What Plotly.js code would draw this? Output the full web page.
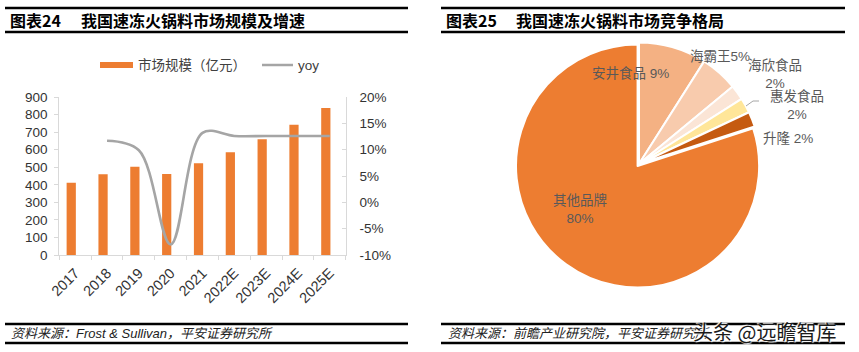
<!DOCTYPE html>
<html>
<head>
<meta charset="utf-8">
<script src="https://cdn.plot.ly/plotly-3.0.1.min.js"></script>
<style>html,body{margin:0;padding:0;background:#fff;}#chart{width:859px;height:352px;}</style>
</head>
<body>
<div id="chart"></div>
<script>
// ---------- data ----------
const years = ['2017','2018','2019','2020','2021','2022E','2023E','2024E','2025E'];
const marketSize = [412, 460, 503, 461, 522, 585, 660, 742, 838];          // 亿元
const yoy = [null, 0.117, 0.099, -0.080, 0.132, 0.126, 0.126, 0.126, 0.126];
const leftTicks = [0,100,200,300,400,500,600,700,800,900];
const rightTickVals = [-0.10,-0.05,0,0.05,0.10,0.15,0.20];
const rightTickText = ['-10%','-5%','0%','5%','10%','15%','20%'];

const brands = ['安井食品','海霸王','海欣食品','惠发食品','升隆','其他品牌'];
const shares = [9, 5, 2, 2, 2, 80];

const barName = '市场规模（亿元）';
const lineName = 'yoy';
const title1Num = '图表24', title1 = '我国速冻火锅料市场规模及增速';
const title2Num = '图表25', title2 = '我国速冻火锅料市场竞争格局';
const source1 = '资料来源：Frost & Sullivan，平安证券研究所';
const source2 = '资料来源：前瞻产业研究院，平安证券研究所';
const watermark = '头条 @远瞻智库';

// ---------- helpers ----------
const W = 859, H = 352;
const X = p => p / W;
const Y = p => 1 - p / H;
const CJK = '"Liberation Sans", "Noto Sans CJK SC", sans-serif';
const ORANGE = '#ed7d31';

const traces = [
  {
    type: 'bar', x: years, y: marketSize, name: barName,
    marker: {color: ORANGE}, width: 0.29, offset: -0.27,
    xaxis: 'x', yaxis: 'y', showlegend: false, hoverinfo: 'skip'
  },
  {
    type: 'scatter', mode: 'lines', x: years, y: yoy, name: lineName,
    line: {color: '#a5a5a5', width: 2.6, shape: 'spline', smoothing: 1.0},
    xaxis: 'x', yaxis: 'y2', showlegend: false, hoverinfo: 'skip', connectgaps: false
  },
  {
    type: 'pie', labels: brands, values: shares, sort: false,
    direction: 'clockwise', rotation: 0, textinfo: 'none', hoverinfo: 'skip',
    marker: {colors: ['#f4b183','#f8cbad','#fbe5d6','#ffe699','#c55a11', ORANGE],
             line: {color: '#ffffff', width: 2}},
    pull: [0,0,0,0,0,0.02],
    domain: {x: [X(515), X(763)], y: [Y(288), Y(40)]},
    showlegend: false
  }
];

const ann = [];
const shapes = [];
function txt(x, y, text, o) {
  ann.push(Object.assign({xref:'paper', yref:'paper', x: X(x), y: Y(y), text: text,
    showarrow:false, xanchor:'left', yanchor:'middle',
    font:{family: CJK, size: 13, color:'#333'}}, o || {}));
}
function hline(x0, x1, y, w) {
  shapes.push({type:'line', xref:'paper', yref:'paper', x0:X(x0), x1:X(x1), y0:Y(y), y1:Y(y),
    line:{color:'#000', width:w}});
}

// title bars
hline(5, 408, 8, 2.5); hline(5, 408, 32, 2.7);
hline(441, 845, 8, 2.5); hline(441, 845, 32, 2.7);
const titleFont = {family:'"Noto Sans CJK SC", sans-serif', size:16, color:'#000', weight:700};
txt(8, 20, title1Num, {font: titleFont});
txt(79, 20, title1, {font: titleFont});
txt(444, 20, title2Num, {font: titleFont});
txt(514, 20, title2, {font: titleFont});

// sources
hline(5, 408, 324, 2.3); hline(5, 408, 343, 2.3);
hline(441, 845, 324, 2.3); hline(441, 845, 343, 2.3);
const srcFont = {family: CJK, size: 13, color:'#222', style:'italic'};
txt(9, 333, source1, {font: srcFont});
txt(446, 333, source2, {font: srcFont});
txt(691, 331, watermark, {font:{family:'"Noto Sans CJK SC", sans-serif', size:20, color:'#1a1a1a',
  shadow:'1px 1px 1px #fff, -1px -1px 1px #fff'}});

// legend (left chart)
shapes.push({type:'rect', xref:'paper', yref:'paper', x0:X(100), x1:X(133), y0:Y(62), y1:Y(68),
  fillcolor: ORANGE, line:{width:0}});
shapes.push({type:'line', xref:'paper', yref:'paper', x0:X(262), x1:X(293), y0:Y(65), y1:Y(65),
  line:{color:'#a5a5a5', width:2.5}});
txt(136, 65, barName, {font:{family:CJK, size:13.5, color:'#404040'}});
txt(296, 65, lineName, {font:{family:CJK, size:13.5, color:'#404040'}});

// pie labels
const pieFont = {family: CJK, size: 13.5, color:'#595959'};
const pieLabels = [
  {x:630, y:73, t: brands[0] + ' ' + shares[0] + '%'},
  {x:720, y:57, t: brands[1] + shares[1] + '%'},
  {x:775, y:74, t: brands[2] + '<br>' + shares[2] + '%'},
  {x:797, y:105, t: brands[3] + '<br>' + shares[3] + '%'},
  {x:788, y:138, t: brands[4] + ' ' + shares[4] + '%'},
  {x:580, y:209, t: brands[5] + '<br>' + shares[5] + '%'}
];
pieLabels.forEach(l => txt(l.x, l.y, l.t, {xanchor:'center', font: pieFont}));
shapes.push({type:'path', xref:'paper', yref:'paper',
  path: `M ${X(746)} ${Y(106)} L ${X(753)} ${Y(101)} L ${X(759)} ${Y(101)}`,
  line:{color:'#a6a6a6', width:1}});

const layout = {
  width: W, height: H,
  margin: {l:0, r:0, t:0, b:0, pad:0},
  paper_bgcolor:'#fff', plot_bgcolor:'rgba(0,0,0,0)',
  font: {family: CJK, color:'#333'},
  showlegend: false,
  xaxis: {
    domain: [X(59.3), X(345.7)], type:'category', range:[-0.5, 8.5],
    tickangle: -45, ticks:'outside', tickson:'boundaries', ticklen:4, tickcolor:'#d9d9d9',
    showline:true, linecolor:'#d9d9d9', linewidth:1, showgrid:false, zeroline:false,
    tickfont:{family:CJK, size:14.5, color:'#333'}, ticklabelstandoff:3, fixedrange:true
  },
  yaxis: {
    domain: [Y(255), Y(97)], range:[0, 900], tickvals: leftTicks,
    ticks:'outside', ticklen:4, tickcolor:'#d9d9d9',
    showline:true, linecolor:'#d9d9d9', showgrid:false, zeroline:false,
    tickfont:{family:CJK, size:13.5, color:'#333'}, ticklabelstandoff:4
  },
  yaxis2: {
    overlaying:'y', side:'right', anchor:'x', range:[-0.10, 0.20],
    tickvals: rightTickVals, ticktext: rightTickText,
    ticks:'inside', ticklen:4, tickcolor:'#d9d9d9',
    showline:true, linecolor:'#d9d9d9', showgrid:false, zeroline:false,
    tickfont:{family:CJK, size:13.5, color:'#333'}, ticklabelstandoff:10
  },
  annotations: ann,
  shapes: shapes
};

Plotly.newPlot('chart', traces, layout, {staticPlot:true, displayModeBar:false});
</script>
</body>
</html>
